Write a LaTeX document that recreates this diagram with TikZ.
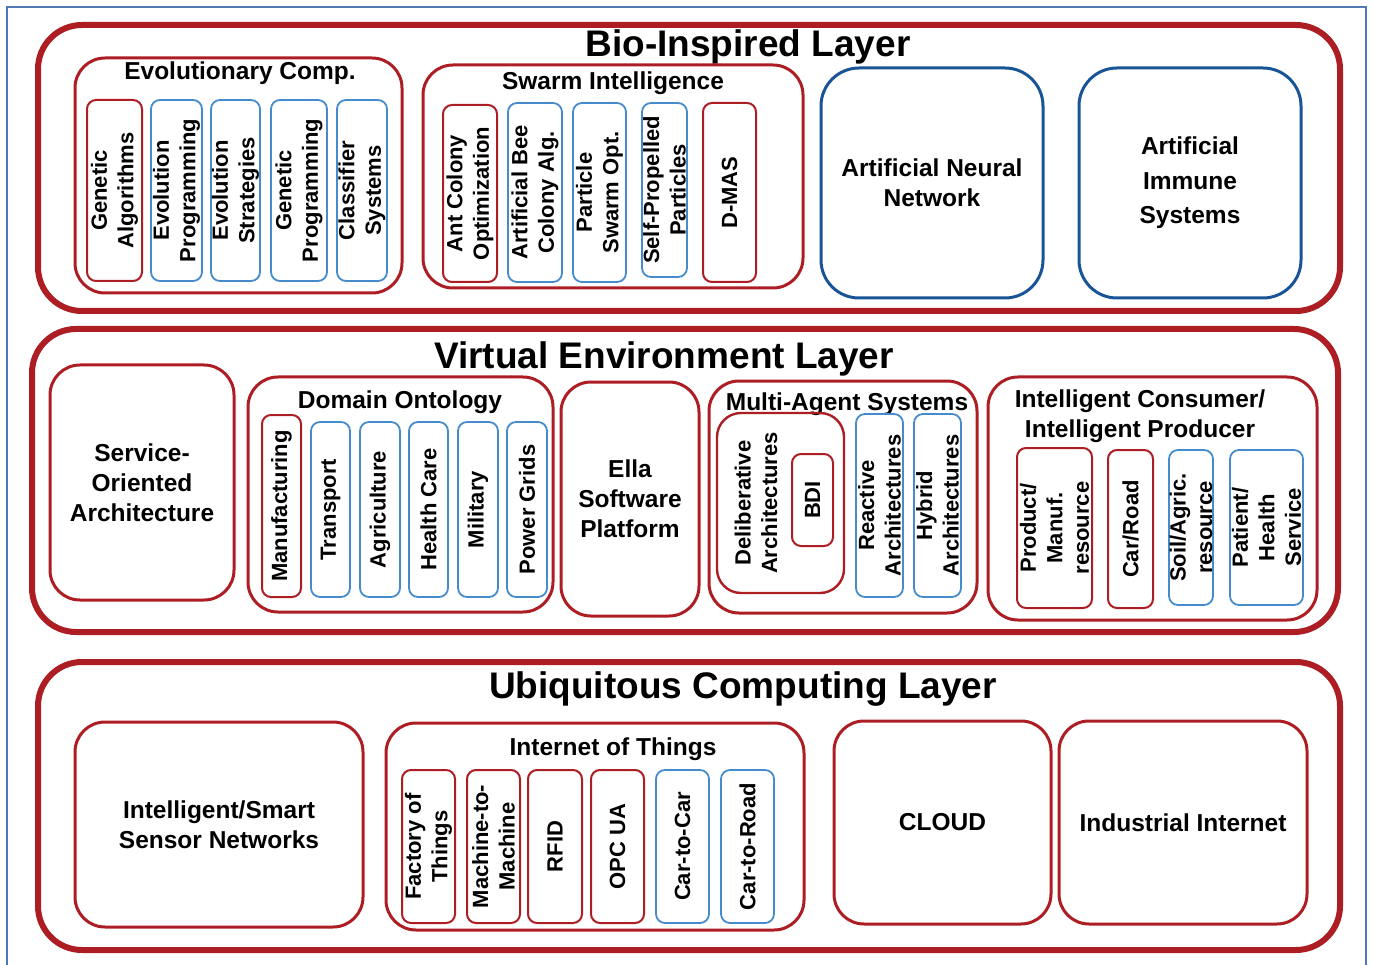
\documentclass[tikz,border=0pt]{standalone}
\usepackage{fontspec}
\setmainfont{Liberation Sans}
\definecolor{dred}{RGB}{172,30,36}
\definecolor{lblue}{RGB}{70,140,205}
\definecolor{dblue}{RGB}{25,85,150}
\definecolor{fblue}{RGB}{80,120,180}
\newcommand\bx[6]{\node[#6, minimum width={#4-#2}, minimum height={#5-#3}] (#1) at ({(#2+#4)/2},{(#3+#5)/2}) {};}
\newcommand\vt[2]{\node[vtext] (#1t) at (#1) {#2};}
\newcommand\bt[2]{\node[btext] (#1t) at (#1) {#2};}
\begin{document}
\begin{tikzpicture}[x=1pt,y={(0pt,-1pt)},
 every node/.style={inner sep=0pt, outer sep=0pt},
 layer/.style={draw=dred, line width=6pt, rounded corners=44pt},
 grp/.style={draw=dred, line width=3pt, rounded corners=30pt},
 bgrp/.style={draw=dblue, line width=3pt, rounded corners=38pt},
 rin/.style={draw=dred, line width=2pt, rounded corners=9pt},
 bin/.style={draw=lblue, line width=1.8pt, rounded corners=9pt},
 ltitle/.style={anchor=base, font=\fontsize{37}{40}\selectfont\bfseries},
 gtitle/.style={anchor=base, font=\fontsize{24.5}{30}\selectfont\bfseries},
 btext/.style={align=center, font=\fontsize{24.5}{30}\selectfont\bfseries},
 vtext/.style={rotate=90, align=center, font=\fontsize{22}{26.5}\selectfont\bfseries}]
\useasboundingbox (0,0) rectangle (1373,965);
% frame
\draw[fblue, line width=1.5pt] (7,965) -- (7,7) -- (1366,7) -- (1366,965);

% ===== Layer 1 =====
\bx{L1}{38}{25}{1340}{311}{layer}
\node[ltitle] (L1t) at (748,57) {Bio-Inspired Layer};

\bx{EC}{75}{58}{402}{293}{grp}
\node[gtitle] (ECt) at (240,80) {Evolutionary Comp.};
\bx{GA}{87}{100}{142}{281}{rin}   \vt{GA}{Genetic\\Algorithms}
\bx{EP}{151}{100}{202}{281}{bin}  \vt{EP}{Evolution\\Programming}
\bx{ES}{211}{100}{260}{281}{bin}  \vt{ES}{Evolution\\Strategies}
\bx{GP}{271}{100}{327}{281}{bin}  \vt{GP}{Genetic\\Programming}
\bx{CS}{337}{100}{387}{281}{bin}  \vt{CS}{Classifier\\Systems}

\bx{SI}{423}{65}{803}{288}{grp}
\node[gtitle] (SIt) at (613,90) {Swarm Intelligence};
\bx{ACO}{443}{105}{497}{282}{rin}  \vt{ACO}{Ant Colony\\Optimization}
\bx{ABC}{508}{103}{562}{282}{bin}  \vt{ABC}{Artificial Bee\\Colony Alg.}
\bx{PSO}{573}{103}{626}{282}{bin}  \vt{PSO}{Particle\\Swarm Opt.}
\bx{SPP}{642}{103}{687}{277}{bin}  \vt{SPP}{Self-Propelled\\Particles}
\bx{DMAS}{703}{103}{756}{282}{rin} \vt{DMAS}{D-MAS}

\bx{ANN}{821}{68}{1043}{298}{bgrp} \bt{ANN}{Artificial Neural\\Network}
\bx{AIS}{1079}{68}{1301}{298}{bgrp}
\node[btext, font=\fontsize{24.5}{34.5}\selectfont\bfseries] (AISt) at (AIS) {Artificial\\Immune\\Systems};

% ===== Layer 2 =====
\bx{L2}{32}{329}{1338}{632}{layer}
\node[ltitle] (L2t) at (664,369) {Virtual Environment Layer};

\bx{SOA}{50}{365}{234}{600}{grp} \bt{SOA}{Service-\\Oriented\\Architecture}

\bx{DO}{248}{377}{553}{612}{grp}
\node[gtitle] (DOt) at (400,408) {Domain Ontology};
\bx{MAN}{262}{415}{301}{597}{rin} \vt{MAN}{Manufacturing}
\bx{TRA}{311}{422}{350}{597}{bin} \vt{TRA}{Transport}
\bx{AGR}{360}{422}{400}{597}{bin} \vt{AGR}{Agriculture}
\bx{HEA}{409}{422}{448}{597}{bin} \vt{HEA}{Health Care}
\bx{MIL}{458}{422}{498}{597}{bin} \vt{MIL}{Military}
\bx{POW}{507}{422}{547}{597}{bin} \vt{POW}{Power Grids}

\bx{ELLA}{561}{382}{699}{616}{grp} \bt{ELLA}{Ella\\Software\\Platform}

\bx{MAS}{709}{381}{977}{613}{grp}
\node[gtitle] (MASt) at (847,410) {Multi-Agent Systems};
\bx{DEL}{717}{413}{844}{593}{grp, line width=2.4pt, rounded corners=24pt}
\node[vtext] (DELt) at (756,503) {Deliberative\\Architectures};
\bx{BDI}{792}{454}{833}{546}{rin} \vt{BDI}{BDI}
\bx{REA}{856}{414}{903}{597}{bin} \vt{REA}{Reactive\\Architectures}
\bx{HYB}{914}{414}{961}{597}{bin} \vt{HYB}{Hybrid\\Architectures}

\bx{ICIP}{988}{377}{1317}{620}{grp}
\node[gtitle] (ICIPa) at (1140,407) {Intelligent Consumer/};
\node[gtitle] (ICIPb) at (1140,437) {Intelligent Producer};
\bx{PMR}{1017}{448}{1092}{608}{rin} \vt{PMR}{Product/\\Manuf.\\resource}
\bx{CR}{1108}{450}{1153}{608}{rin}  \vt{CR}{Car/Road}
\bx{SAR}{1169}{450}{1213}{605}{bin} \vt{SAR}{Soil/Agric.\\resource}
\bx{PHS}{1230}{450}{1303}{605}{bin} \vt{PHS}{Patient/\\Health\\Service}

% ===== Layer 3 =====
\bx{L3}{38}{662}{1340}{950}{layer}
\node[ltitle] (L3t) at (743,698) {Ubiquitous Computing Layer};

\bx{SSN}{75}{722}{363}{927}{grp} \bt{SSN}{Intelligent/Smart\\Sensor Networks}

\bx{IOT}{386}{723}{804}{930}{grp}
\node[gtitle] (IOTt) at (613,755) {Internet of Things};
\bx{FOT}{402}{770}{455}{923}{rin} \vt{FOT}{Factory of\\Things}
\bx{M2M}{467}{770}{520}{923}{rin} \vt{M2M}{Machine-to-\\Machine}
\bx{RFID}{528}{770}{582}{923}{rin} \vt{RFID}{RFID}
\bx{OPC}{591}{770}{644}{923}{rin} \vt{OPC}{OPC UA}
\bx{C2C}{656}{770}{709}{923}{bin} \vt{C2C}{Car-to-Car}
\bx{C2R}{721}{770}{774}{923}{bin} \vt{C2R}{Car-to-Road}

\bx{CLOUD}{834}{721}{1051}{924}{grp} \bt{CLOUD}{CLOUD}
\bx{II}{1059}{721}{1307}{924}{grp} \bt{II}{Industrial Internet}
\end{tikzpicture}
\end{document}
